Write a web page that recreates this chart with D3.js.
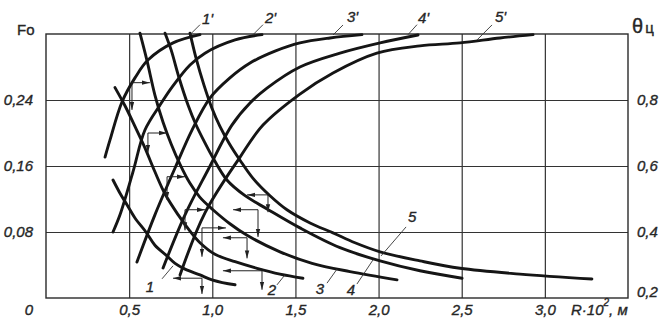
<!DOCTYPE html>
<html>
<head>
<meta charset="utf-8">
<script src="https://cdn.jsdelivr.net/npm/d3@7"></script>
<style>
body { margin: 0; background: #fff; }
svg text {
    font-family: "Liberation Sans", "DejaVu Sans", sans-serif;
    font-style: italic;
    font-size: 15px;
    fill: #262626;
    stroke: #262626;
    stroke-width: 0.35px;
}
</style>
</head>
<body>
<div id="chart"></div>
<script>
// tick values and labels
var xTicks = [0.5, 1.0, 1.5, 2.0, 2.5, 3.0];
var xTickLabels = ["0,5", "1,0", "1,5", "2,0", "2,5", "3,0"];
var foTicks = [0.08, 0.16, 0.24];
var foTickLabels = ["0,08", "0,16", "0,24"];
var thetaTicks = [0.2, 0.4, 0.6, 0.8];
var thetaTickLabels = ["0,2", "0,4", "0,6", "0,8"];

// Fo against R·10^2 (left axis), curves 1..5  [R, Fo]
var fo1 = [[0.403, 0.143], [0.445, 0.127], [0.487, 0.113], [0.535, 0.097], [0.601, 0.080], [0.655, 0.064],
    [0.722, 0.052], [0.776, 0.042], [0.836, 0.035], [0.926, 0.028], [0.998, 0.022], [1.137, 0.016]];
var fo2 = [[0.415, 0.255], [0.475, 0.233], [0.535, 0.208], [0.595, 0.182], [0.655, 0.153], [0.716, 0.126],
    [0.794, 0.101], [0.866, 0.081], [0.926, 0.067], [1.016, 0.053], [1.137, 0.044], [1.269, 0.036],
    [1.407, 0.029], [1.545, 0.024]];
var fo3 = [[0.565, 0.321], [0.607, 0.288], [0.655, 0.246], [0.704, 0.213], [0.752, 0.187], [0.806, 0.162],
    [0.866, 0.139], [0.926, 0.122], [1.004, 0.107], [1.106, 0.090], [1.209, 0.076], [1.407, 0.056],
    [1.600, 0.042], [1.828, 0.032], [2.111, 0.022]];
var fo4 = [[0.716, 0.321], [0.752, 0.301], [0.800, 0.267], [0.854, 0.234], [0.902, 0.210], [0.956, 0.188],
    [1.004, 0.170], [1.088, 0.143], [1.197, 0.124], [1.329, 0.108], [1.527, 0.085], [1.768, 0.061],
    [2.009, 0.045], [2.249, 0.033], [2.502, 0.024]];
var fo5 = [[0.866, 0.321], [0.902, 0.291], [0.950, 0.258], [0.998, 0.230], [1.046, 0.208], [1.100, 0.188],
    [1.167, 0.167], [1.245, 0.145], [1.347, 0.124], [1.449, 0.107], [1.588, 0.091], [1.726, 0.079],
    [1.858, 0.067], [2.009, 0.056], [2.249, 0.045], [2.490, 0.036], [2.850, 0.029], [3.283, 0.023]];

// theta_c against R·10^2 (right axis), curves 1'..5'  [R, theta]
var theta1 = [[0.355, 0.627], [0.385, 0.679], [0.457, 0.794], [0.535, 0.867], [0.613, 0.921], [0.764, 0.973],
    [0.926, 0.998]];
var theta2 = [[0.403, 0.400], [0.445, 0.452], [0.523, 0.582], [0.595, 0.709], [0.686, 0.785], [0.758, 0.839],
    [0.866, 0.906], [0.956, 0.942], [1.137, 0.982], [1.299, 0.998]];
var theta3 = [[0.547, 0.309], [0.655, 0.452], [0.776, 0.594], [0.878, 0.709], [0.986, 0.806], [1.106, 0.867],
    [1.227, 0.912], [1.377, 0.948], [1.527, 0.973], [1.708, 0.988], [1.900, 0.998]];
var theta4 = [[0.704, 0.291], [0.836, 0.452], [0.974, 0.588], [1.118, 0.724], [1.227, 0.791], [1.329, 0.836],
    [1.527, 0.900], [1.768, 0.942], [2.009, 0.973], [2.237, 0.997]];
var theta5 = [[0.806, 0.270], [0.956, 0.458], [1.167, 0.627], [1.305, 0.724], [1.527, 0.818], [1.726, 0.882],
    [1.990, 0.942], [2.249, 0.964], [2.490, 0.973], [2.730, 0.988], [2.929, 0.998]];

var foNames = ["1", "2", "3", "4", "5"];
var thetaNames = ["1'", "2'", "3'", "4'", "5'"];

// where each leader touches its curve  [R, value]
var foLabelPoints = [[0.764, 0.039], [1.437, 0.028], [1.750, 0.035], [1.966, 0.046], [2.015, 0.051]];
var thetaLabelPoints = [[0.866, 0.998], [1.245, 0.998], [1.726, 0.997], [2.177, 0.998], [2.592, 0.982]];

// reading arrows: corner R, corner Fo, horizontal end R, vertical end Fo
var rightArrows = [[0.517, 0.261, 0.625, 0.228], [0.613, 0.200, 0.728, 0.176], [0.728, 0.147, 0.836, 0.119],
    [0.836, 0.107, 0.956, 0.082], [0.938, 0.085, 1.082, 0.050]];
var leftArrows = [[1.335, 0.125, 1.209, 0.104], [1.275, 0.107, 1.125, 0.074], [1.209, 0.073, 1.064, 0.048],
    [1.299, 0.033, 1.064, 0.010], [0.938, 0.024, 0.764, 0.005]];

var svgWidth = 664;
var svgHeight = 326;

var margin = {
    top: 34,
    right: 36,
    bottom: 28,
    left: 46
};

var width = svgWidth - margin.left - margin.right;
var height = svgHeight - margin.top - margin.bottom;

var svg = d3.select("#chart")
    .append("svg")
    .attr("width", svgWidth)
    .attr("height", svgHeight);

svg.append("defs").append("marker")
    .attr("id", "head")
    .attr("viewBox", "0 -3 8 6")
    .attr("refX", 8)
    .attr("refY", 0)
    .attr("markerUnits", "userSpaceOnUse")
    .attr("markerWidth", 8)
    .attr("markerHeight", 6)
    .attr("orient", "auto")
    .append("path")
    .attr("d", "M0,-2.2L8,0L0,2.2Z")
    .attr("fill", "#222");

var chartGroup = svg.append("g")
    .attr("transform", `translate(${margin.left}, ${margin.top})`);

var xScale = d3.scaleLinear().domain([0, 3.5]).range([0, width]);
var foScale = d3.scaleLinear().domain([0, 0.32]).range([height, 0]);
var thetaScale = d3.scaleLinear().domain([0.2, 1.0]).range([height, 0]);

// grid + tick labels
var xAxis = chartGroup.append("g")
    .attr("transform", `translate(0, ${height})`)
    .call(d3.axisBottom(xScale)
        .tickValues(xTicks)
        .tickSize(-height)
        .tickPadding(6)
        .tickFormat((d, i) => xTickLabels[i]));

var yAxis = chartGroup.append("g")
    .call(d3.axisLeft(foScale)
        .tickValues(foTicks)
        .tickSize(-width)
        .tickPadding(13)
        .tickFormat((d, i) => foTickLabels[i]));

var yAxisRight = chartGroup.append("g")
    .attr("transform", `translate(${width}, 0)`)
    .call(d3.axisRight(thetaScale)
        .tickValues(thetaTicks)
        .tickSize(0)
        .tickPadding(9)
        .tickFormat((d, i) => thetaTickLabels[i]));

chartGroup.selectAll(".domain").remove();
chartGroup.selectAll(".tick line")
    .attr("stroke", "#333")
    .attr("stroke-width", 1.2);
chartGroup.selectAll(".tick text")
    .attr("font-family", null)
    .attr("font-size", null)
    .attr("fill", null);
yAxisRight.selectAll(".tick text")
    .filter(d => d === 0.2)
    .attr("dy", "-0.1em");

chartGroup.append("rect")
    .attr("width", width)
    .attr("height", height)
    .attr("fill", "none")
    .attr("stroke", "#2a2a2a")
    .attr("stroke-width", 1.4);

// curves
var foLine = d3.line()
    .x(d => xScale(d[0]))
    .y(d => foScale(d[1]))
    .curve(d3.curveCatmullRom.alpha(0.5));

var thetaLine = d3.line()
    .x(d => xScale(d[0]))
    .y(d => thetaScale(d[1]))
    .curve(d3.curveCatmullRom.alpha(0.5));

var foCurves = [fo1, fo2, fo3, fo4, fo5];
var thetaCurves = [theta1, theta2, theta3, theta4, theta5];

chartGroup.selectAll(".fo-curve")
    .data(foCurves)
    .enter()
    .append("path")
    .attr("class", "fo-curve")
    .attr("d", foLine)
    .attr("fill", "none")
    .attr("stroke", "#151515")
    .attr("stroke-width", 2.9)
    .attr("stroke-linecap", "round");

chartGroup.selectAll(".theta-curve")
    .data(thetaCurves)
    .enter()
    .append("path")
    .attr("class", "theta-curve")
    .attr("d", thetaLine)
    .attr("fill", "none")
    .attr("stroke", "#151515")
    .attr("stroke-width", 2.9)
    .attr("stroke-linecap", "round");

// reading arrows
var arrowGroup = chartGroup.append("g")
    .attr("stroke", "#222")
    .attr("stroke-width", 1);

rightArrows.concat(leftArrows).forEach(function (a) {
    arrowGroup.append("line")
        .attr("x1", xScale(a[0]))
        .attr("y1", foScale(a[1]))
        .attr("x2", xScale(a[2]))
        .attr("y2", foScale(a[1]))
        .attr("marker-end", "url(#head)");
    arrowGroup.append("line")
        .attr("x1", xScale(a[0]))
        .attr("y1", foScale(a[1]))
        .attr("x2", xScale(a[0]))
        .attr("y2", foScale(a[3]))
        .attr("marker-end", "url(#head)");
});

// curve labels with leaders
var thetaOffsets = [[10, -10, 12, -11], [10, -10, 12, -12], [10, -10, 14, -13], [9, -10, 10, -12], [15, -15, 18, -18]];
var foOffsets = [[-11, 13, -23, 26], [-8, 10, -13, 20], [-10, 14, -17, 25], [-16, 24, -22, 35], [25, -29, 31, -34]];

var leaderGroup = chartGroup.append("g")
    .attr("stroke", "#333")
    .attr("stroke-width", 0.9);

thetaLabelPoints.forEach(function (p, i) {
    var px = xScale(p[0]);
    var py = thetaScale(p[1]);
    var o = thetaOffsets[i];
    leaderGroup.append("line")
        .attr("x1", px).attr("y1", py)
        .attr("x2", px + o[0]).attr("y2", py + o[1]);
    chartGroup.append("text")
        .attr("x", px + o[2])
        .attr("y", py + o[3])
        .text(thetaNames[i]);
});

foLabelPoints.forEach(function (p, i) {
    var px = xScale(p[0]);
    var py = foScale(p[1]);
    var o = foOffsets[i];
    leaderGroup.append("line")
        .attr("x1", px).attr("y1", py)
        .attr("x2", px + o[0]).attr("y2", py + o[1]);
    chartGroup.append("text")
        .attr("x", px + o[2])
        .attr("y", py + o[3])
        .attr("text-anchor", "middle")
        .text(foNames[i]);
});

// axis titles
svg.append("text")
    .attr("x", 17)
    .attr("y", 35)
    .style("font-style", "normal")
    .text("Fo");

svg.append("text")
    .attr("x", 33)
    .attr("y", 315)
    .attr("text-anchor", "end")
    .text("0");

var thetaTitle = svg.append("text")
    .attr("x", 632)
    .attr("y", 33)
    .style("font-style", "normal");
thetaTitle.append("tspan")
    .style("font-size", "20px")
    .text("θ");
thetaTitle.append("tspan")
    .attr("dx", 2)
    .text("ц");

var rTitle = svg.append("text")
    .attr("x", 571)
    .attr("y", 315);
rTitle.append("tspan").text("R·10");
rTitle.append("tspan")
    .attr("dy", -9)
    .style("font-size", "10px")
    .text("2");
rTitle.append("tspan")
    .attr("dy", 9)
    .text(", м");
</script>
</body>
</html>
